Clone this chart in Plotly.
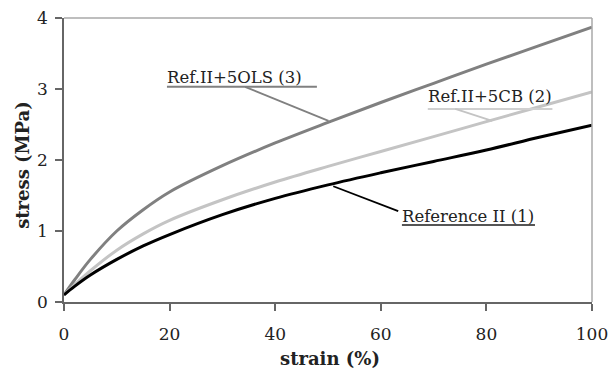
import plotly.graph_objects as go

strain = [0, 2, 5, 10, 15, 20, 30, 40, 50, 60, 70, 80, 90, 100]
ref_ii = [0.1, 0.22, 0.38, 0.60, 0.79, 0.95, 1.23, 1.46, 1.65, 1.82, 1.98, 2.14, 2.32, 2.49]
ref_5cb = [0.1, 0.24, 0.44, 0.73, 0.96, 1.15, 1.44, 1.69, 1.91, 2.12, 2.33, 2.54, 2.75, 2.96]
ref_5ols = [0.1, 0.31, 0.60, 1.00, 1.30, 1.55, 1.92, 2.24, 2.53, 2.81, 3.08, 3.35, 3.61, 3.87]

x_ticks = [0, 20, 40, 60, 80, 100]
y_ticks = [0, 1, 2, 3, 4]

FONT = "DejaVu Serif"

fig = go.Figure()
fig.add_trace(go.Scatter(x=strain, y=ref_5ols, mode="lines", line=dict(color="#808080", width=3, shape="spline"), name="Ref.II+5OLS (3)"))
fig.add_trace(go.Scatter(x=strain, y=ref_5cb, mode="lines", line=dict(color="#c4c4c4", width=3, shape="spline"), name="Ref.II+5CB (2)"))
fig.add_trace(go.Scatter(x=strain, y=ref_ii, mode="lines", line=dict(color="#000000", width=3, shape="spline"), name="Reference II (1)"))

labels = [
    dict(text="Ref.II+5OLS (3)", tx=19.5, ty=3.16, ul=(19.5, 47.9, 3.03), lead=((34.3, 3.03), (50.1, 2.55)), color="#808080", ulc="#808080"),
    dict(text="Ref.II+5CB (2)", tx=68.9, ty=2.89, ul=(68.9, 92.5, 2.72), lead=((74.1, 2.72), (81.1, 2.55)), color="#c4c4c4", ulc="#d0d0d0"),
    dict(text="Reference II (1)", tx=64.0, ty=1.21, ul=(64.0, 89.2, 1.085), lead=((51.0, 1.63), (63.3, 1.28)), color="#000000", ulc="#555555"),
]
for lb in labels:
    fig.add_annotation(x=lb["tx"], y=lb["ty"], text=lb["text"], showarrow=False, xanchor="left", yanchor="middle",
                       xshift=-2, font=dict(family=FONT, size=16.5, color="#222222"))
    x0, x1, yu = lb["ul"]
    fig.add_shape(type="line", x0=x0, x1=x1, y0=yu, y1=yu, xref="x", yref="y",
                  line=dict(color=lb["ulc"], width=2))
    (ax, ay), (bx, by) = lb["lead"]
    fig.add_shape(type="line", x0=ax, y0=ay, x1=bx, y1=by, xref="x", yref="y",
                  line=dict(color=lb["color"], width=1.8))

# top/right frame
fig.add_shape(type="line", xref="x domain", yref="y domain", x0=0, x1=1, y0=1, y1=1, line=dict(color="#a8a8a8", width=1.5))
fig.add_shape(type="line", xref="x domain", yref="y domain", x0=1, x1=1, y0=0, y1=1, line=dict(color="#a8a8a8", width=1.5))

# axis titles
fig.add_annotation(xref="paper", yref="paper", x=-0.08, y=0.482, text="<b>stress (MPa)</b>", textangle=-90,
                   showarrow=False, xanchor="center", yanchor="middle", font=dict(family=FONT, size=18, color="#222222"))
fig.add_annotation(xref="paper", yref="paper", x=0.504, y=-0.2, text="<b>strain (%)</b>",
                   showarrow=False, xanchor="center", yanchor="middle", font=dict(family=FONT, size=18, color="#222222"))

fig.update_xaxes(range=[0, 100], tickvals=x_ticks, ticks="outside", ticklen=7, tickcolor="#666666", tickwidth=1.5,
                 showline=True, linecolor="#666666", linewidth=1.5, showgrid=False, zeroline=False, automargin=False,
                 ticklabeloverflow="allow", ticklabelstandoff=9,
                 tickfont=dict(family=FONT, size=17, color="#222222"))
fig.update_yaxes(range=[0, 4], tickvals=y_ticks, ticks="outside", ticklen=7, tickcolor="#666666", tickwidth=1.5,
                 showline=True, linecolor="#666666", linewidth=1.5, showgrid=False, zeroline=False, automargin=False,
                 ticklabeloverflow="allow", ticklabelstandoff=4,
                 tickfont=dict(family=FONT, size=17, color="#222222"))

fig.update_layout(width=611, height=369, margin=dict(l=64, r=19, t=18, b=67),
                  plot_bgcolor="white", paper_bgcolor="white", showlegend=False)

# remove the default page margin so the 611x369 figure fills the window exactly
fig.write_html("out.html", config={"displayModeBar": False},
               post_script="document.body.style.margin='0';document.body.style.overflow='hidden';")
